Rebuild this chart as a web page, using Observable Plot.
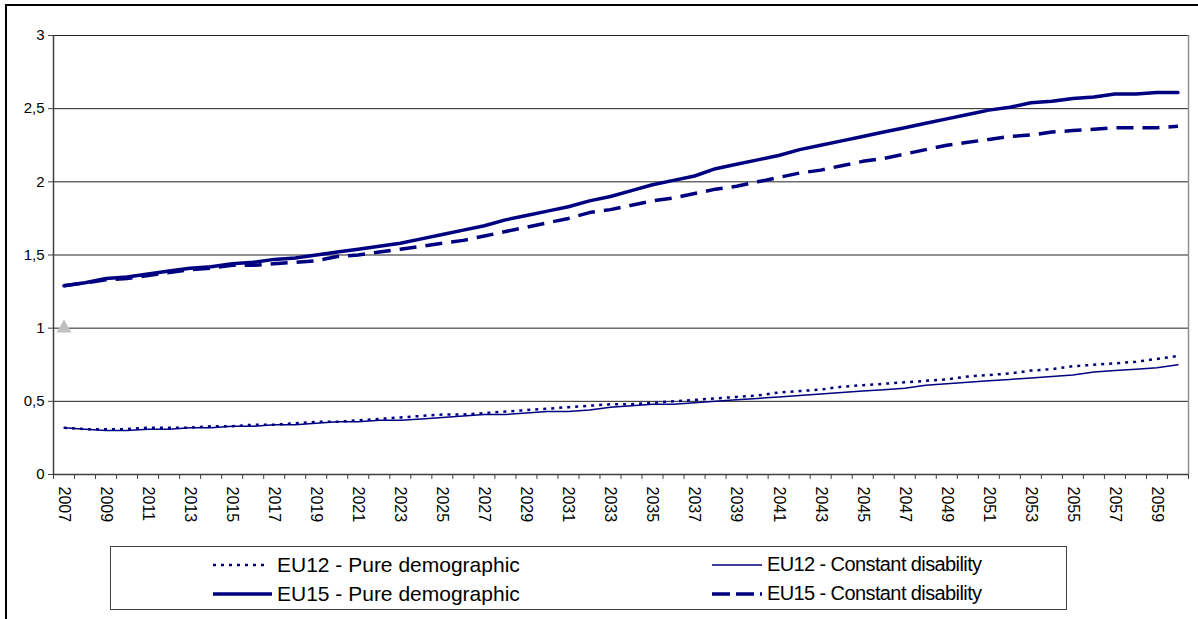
<!DOCTYPE html>
<html>
<head>
<meta charset="utf-8">
<script src="https://cdn.jsdelivr.net/npm/d3@7"></script>
<script src="https://cdn.jsdelivr.net/npm/@observablehq/plot@0.6"></script>
<style>
  html, body { margin: 0; padding: 0; background: #fff; }
  body { width: 1198px; height: 619px; position: relative; overflow: hidden; font-family: "Liberation Sans", Arial, sans-serif; }
  #frame { position: absolute; left: 5px; top: 4px; width: 1300px; height: 700px; border-top: 2px solid #000; border-left: 2px solid #000; }
  #chart { position: absolute; left: 0; top: 0; }
  #legend { position: absolute; left: 110px; top: 546px; width: 957px; height: 64px; border: 1px solid #404040; box-sizing: border-box; background: #fff; }
  .item { position: absolute; height: 29px; display: flex; align-items: center; font-size: 20px; color: #000; white-space: nowrap; }
</style>
</head>
<body>
<div id="frame"></div>
<div id="chart"></div>
<div id="legend"></div>
<script>
const years = [2007,2008,2009,2010,2011,2012,2013,2014,2015,2016,2017,2018,2019,2020,2021,2022,2023,2024,2025,2026,2027,2028,2029,2030,2031,2032,2033,2034,2035,2036,2037,2038,2039,2040,2041,2042,2043,2044,2045,2046,2047,2048,2049,2050,2051,2052,2053,2054,2055,2056,2057,2058,2059,2060];
const xTickLabels = [2007,2009,2011,2013,2015,2017,2019,2021,2023,2025,2027,2029,2031,2033,2035,2037,2039,2041,2043,2045,2047,2049,2051,2053,2055,2057,2059];
const yTicks = [0, 0.5, 1, 1.5, 2, 2.5, 3];

const eu12Pure = [0.32,0.31,0.31,0.31,0.32,0.32,0.32,0.33,0.33,0.34,0.34,0.35,0.36,0.36,0.37,0.38,0.39,0.40,0.41,0.41,0.42,0.43,0.44,0.45,0.46,0.47,0.48,0.48,0.49,0.50,0.51,0.52,0.53,0.54,0.56,0.57,0.58,0.60,0.61,0.62,0.63,0.64,0.65,0.67,0.68,0.69,0.71,0.72,0.74,0.75,0.76,0.77,0.79,0.81];
const eu12Const = [0.32,0.31,0.30,0.30,0.31,0.31,0.32,0.32,0.33,0.33,0.34,0.34,0.35,0.36,0.36,0.37,0.37,0.38,0.39,0.40,0.41,0.41,0.42,0.43,0.43,0.44,0.46,0.47,0.48,0.48,0.49,0.50,0.51,0.52,0.53,0.54,0.55,0.56,0.57,0.58,0.59,0.61,0.62,0.63,0.64,0.65,0.66,0.67,0.68,0.70,0.71,0.72,0.73,0.75];
const eu15Pure = [1.29,1.31,1.34,1.35,1.37,1.39,1.41,1.42,1.44,1.45,1.47,1.48,1.50,1.52,1.54,1.56,1.58,1.61,1.64,1.67,1.70,1.74,1.77,1.80,1.83,1.87,1.90,1.94,1.98,2.01,2.04,2.09,2.12,2.15,2.18,2.22,2.25,2.28,2.31,2.34,2.37,2.40,2.43,2.46,2.49,2.51,2.54,2.55,2.57,2.58,2.60,2.60,2.61,2.61];
const eu15Const = [1.29,1.31,1.33,1.34,1.36,1.38,1.40,1.41,1.43,1.43,1.44,1.45,1.46,1.49,1.50,1.52,1.54,1.56,1.58,1.60,1.63,1.66,1.69,1.72,1.75,1.79,1.81,1.84,1.87,1.89,1.92,1.95,1.97,2.00,2.03,2.06,2.08,2.11,2.14,2.16,2.19,2.22,2.25,2.27,2.29,2.31,2.32,2.34,2.35,2.36,2.37,2.37,2.37,2.38];
const markerYear = [2007];
const markerValue = [1];

const navy = "#000080";
const xDomain = [years[0] - 0.5, years[years.length - 1] + 0.5];
const bandEdges = years.map(y => y - 0.5).concat([xDomain[1]]);
const rows = years.map((y, i) => ({year: y, eu12Pure: eu12Pure[i], eu12Const: eu12Const[i], eu15Pure: eu15Pure[i], eu15Const: eu15Const[i]}));
const markers = markerYear.map((y, i) => ({year: y, value: markerValue[i]}));
const fmt = d => String(d).replace(".", ",");

const chart = Plot.plot({
  width: 1198,
  height: 540,
  marginLeft: 53,
  marginRight: 10,
  marginTop: 35,
  marginBottom: 66,
  style: {fontFamily: '"Liberation Sans", Arial, sans-serif', fontSize: "15px", color: "#000", background: "transparent", overflow: "visible"},
  x: {domain: xDomain, axis: null},
  y: {domain: [0, 3], axis: null},
  marks: [
    Plot.gridY(yTicks.slice(1), {stroke: "#222", strokeOpacity: 1, strokeWidth: 1}),
    Plot.ruleX([xDomain[1]], {y1: 0, y2: 3, stroke: "#909090", strokeWidth: 1.5}),
    Plot.ruleX([xDomain[0]], {y1: 0, y2: 3, stroke: "#404040", strokeWidth: 1.5}),
    Plot.ruleY([0], {stroke: "#404040", strokeWidth: 1.5}),
    Plot.axisY(yTicks, {tickSize: 5, tickPadding: 4, tickFormat: fmt, fontSize: 15, stroke: "#404040", label: null}),
    Plot.axisX(bandEdges, {tickSize: 5, tickFormat: () => "", stroke: "#404040", label: null}),
    Plot.axisX(xTickLabels, {tickSize: 0, tickPadding: 12, tickRotate: 90, fontSize: 16, tickFormat: d => String(d), label: null}),
    Plot.line(rows, {x: "year", y: "eu12Const", stroke: navy, strokeWidth: 1.5}),
    Plot.line(rows, {x: "year", y: "eu12Pure", stroke: navy, strokeWidth: 2.5, strokeDasharray: "3,5", strokeLinecap: "butt"}),
    Plot.line(rows, {x: "year", y: "eu15Const", stroke: navy, strokeWidth: 3.5, strokeDasharray: "17,9", strokeLinecap: "butt"}),
    Plot.line(rows, {x: "year", y: "eu15Pure", stroke: navy, strokeWidth: 3.5}),
    Plot.dot(markers, {x: "year", y: "value", symbol: "triangle", r: 5.5, fill: "#c0c0c0", stroke: null})
  ]
});
document.getElementById("chart").appendChild(chart);

const legendItems = [
  {label: "EU12 - Pure demographic", left: 102, top: 3, width: 2.5, dash: "3,5", len: 54, gap: 10, size: 21},
  {label: "EU15 - Pure demographic", left: 102, top: 32, width: 3.5, dash: null, len: 59, gap: 5, size: 21},
  {label: "EU12 - Constant disability", left: 601, top: 3, width: 1.5, dash: null, len: 50, gap: 5, size: 20},
  {label: "EU15 - Constant disability", left: 601, top: 32, width: 3.5, dash: "18,6", len: 50, gap: 5, size: 20}
];
const legend = document.getElementById("legend");
legendItems.forEach(it => {
  const div = document.createElement("div");
  div.className = "item";
  div.style.left = it.left + "px";
  div.style.top = it.top + "px";
  div.style.fontSize = it.size + "px";
  const svgNS = "http://www.w3.org/2000/svg";
  const s = document.createElementNS(svgNS, "svg");
  s.setAttribute("width", it.len);
  s.setAttribute("height", 10);
  s.style.marginRight = it.gap + "px";
  const l = document.createElementNS(svgNS, "line");
  l.setAttribute("x1", 0); l.setAttribute("x2", it.len);
  l.setAttribute("y1", 5); l.setAttribute("y2", 5);
  l.setAttribute("stroke", navy);
  l.setAttribute("stroke-width", it.width);
  if (it.dash) l.setAttribute("stroke-dasharray", it.dash);
  s.appendChild(l);
  div.appendChild(s);
  const t = document.createElement("span");
  t.textContent = it.label;
  if (it.left > 300) t.style.letterSpacing = "-0.6px";
  div.appendChild(t);
  legend.appendChild(div);
});
</script>
</body>
</html>
